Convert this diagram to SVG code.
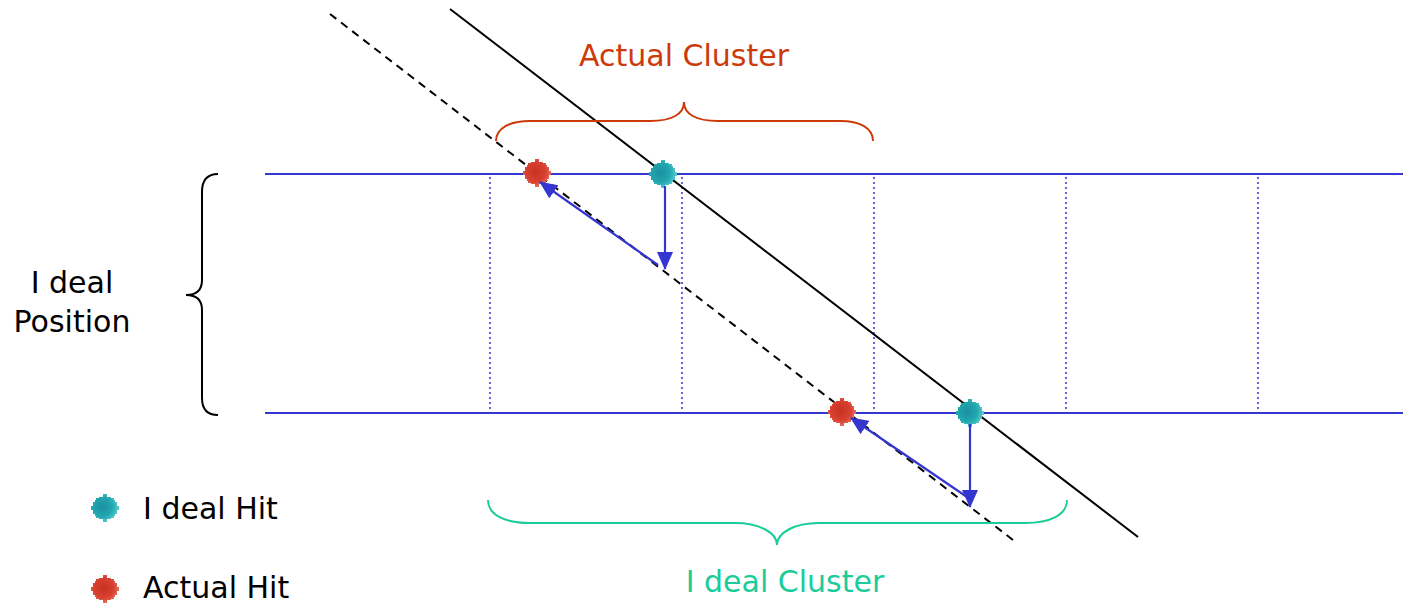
<svg xmlns="http://www.w3.org/2000/svg" width="1403" height="603" viewBox="0 0 1403 603">
<style>
.txt{font-family:"DejaVu Sans","Liberation Sans",sans-serif;font-size:30px}
.hline{stroke:#3535D0;stroke-width:2;fill:none}
.dot{stroke:#3535D0;stroke-width:1.5;stroke-dasharray:2,3;fill:none}
.arr{stroke:#3535D0;stroke-width:2.2;fill:none;marker-end:url(#ah)}
</style>
<defs>
<marker id="ah" markerUnits="userSpaceOnUse" markerWidth="18" markerHeight="16" viewBox="0 0 18 16" refX="17" refY="8" orient="auto">
<path d="M0,0 L18,8 L0,16 z" fill="#3535D0"/>
</marker>
<radialGradient id="gT" cx="0.4" cy="0.45" r="0.6">
<stop offset="0" stop-color="#1A8FA0"/><stop offset="0.6" stop-color="#22A8AE"/><stop offset="1" stop-color="#5ACFD2"/>
</radialGradient>
<radialGradient id="gR" cx="0.45" cy="0.45" r="0.6">
<stop offset="0" stop-color="#C83222"/><stop offset="0.6" stop-color="#D8402F"/><stop offset="1" stop-color="#EE7A66"/>
</radialGradient>
<path id="blob" d="M-2,-14 H2 V-11 H6 V-10 H9 V-8 H10 V-6 H12 V-2 H14 V2 H12 V6 H10 V8 H9 V10 H6 V11 H2 V14 H-2 V11 H-6 V10 H-9 V8 H-10 V6 H-12 V2 H-14 V-2 H-12 V-6 H-10 V-8 H-9 V-10 H-6 V-11 H-2 Z"/>
</defs>

<g id="grid">
<line class="hline" x1="265" y1="174" x2="1403" y2="174"/>
<line class="hline" x1="265" y1="413" x2="1403" y2="413"/>
<line class="dot" x1="490" y1="177" x2="490" y2="411"/>
<line class="dot" x1="682" y1="177" x2="682" y2="411"/>
<line class="dot" x1="874" y1="177" x2="874" y2="411"/>
<line class="dot" x1="1066" y1="177" x2="1066" y2="411"/>
<line class="dot" x1="1258" y1="177" x2="1258" y2="411"/>
</g>

<g id="tracks">
<line x1="450" y1="9" x2="1138" y2="537" stroke="#000" stroke-width="2"/>
<line x1="330" y1="14" x2="1013" y2="540" stroke="#000" stroke-width="2" stroke-dasharray="8,6"/>
</g>

<g id="brackets" fill="none" stroke-width="2">
<path stroke="#CC3A0A" d="M496,141 C496,128 510,121 530,121 L650,121 C672,121 684,114 684,102 C684,114 696,121 718,121 L840,121 C860,121 873,128 873,141"/>
<path stroke="#1ACC99" d="M488,500 C488,515 505,523 530,523 L735,523 C760,523 777,533 777,545 C777,533 794,523 819,523 L1025,523 C1050,523 1067,515 1067,500"/>
<path stroke="#000" d="M218,174 C208,174 202,180 202,192 L202,280 C202,290 196,295 186,295 C196,295 202,300 202,310 L202,398 C202,410 208,415 218,415"/>
</g>

<g id="hits">
<use href="#blob" x="537" y="173" fill="url(#gR)"/>
<use href="#blob" x="663" y="174" fill="url(#gT)"/>
<use href="#blob" x="842" y="412" fill="url(#gR)"/>
<use href="#blob" x="970" y="413" fill="url(#gT)"/>
</g>

<g id="connectors">
<line class="arr" x1="665" y1="186" x2="665" y2="269"/>
<line class="arr" x1="658" y1="265" x2="540" y2="182"/>
<line class="arr" x1="970" y1="424" x2="970" y2="507"/>
<line class="arr" x1="967" y1="497" x2="851" y2="418"/>
</g>

<g id="legend">
<use href="#blob" x="105" y="508" fill="url(#gT)"/>
<use href="#blob" x="105" y="589" fill="url(#gR)"/>
<text class="txt" x="143" y="519" fill="#000">I deal Hit</text>
<text class="txt" x="143" y="598" fill="#000">Actual Hit</text>
</g>

<g id="labels">
<text class="txt" x="684" y="66" fill="#CC3A0A" text-anchor="middle">Actual Cluster</text>
<text class="txt" x="785" y="592" fill="#1ACC99" text-anchor="middle">I deal Cluster</text>
<text class="txt" x="72" y="293" fill="#000" text-anchor="middle">I deal</text>
<text class="txt" x="72" y="332" fill="#000" text-anchor="middle">Position</text>
</g>
</svg>
